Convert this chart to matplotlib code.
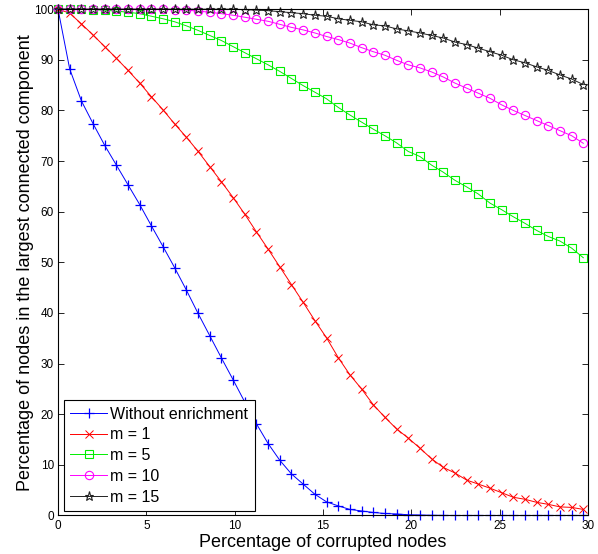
import numpy as np
import matplotlib.pyplot as plt

plt.rcParams['font.family'] = ['Liberation Sans', 'DejaVu Sans']

# x grid: percentage of corrupted nodes (46 samples)
x = np.arange(46) * 0.661

without = [100, 88.2, 81.9, 77.4, 73.1, 69.2, 65.3, 61.4, 57.2, 53.1, 48.9, 44.5,
           39.9, 35.5, 31.1, 26.8, 22.4, 18.1, 14.2, 10.9, 8.2, 6.2, 4.2, 2.7, 1.9,
           1.2, 0.9, 0.6, 0.4, 0.3, 0.15, 0.1, 0.05, 0.02, 0, 0, 0, 0, 0, 0, 0, 0,
           0, 0, 0, 0]
m1 = [100, 99.2, 97.1, 94.9, 92.6, 90.3, 87.9, 85.4, 82.7, 80.1, 77.3, 74.7, 71.9,
      68.9, 65.9, 62.8, 59.5, 56.0, 52.6, 49.1, 45.6, 42.1, 38.5, 35.1, 31.2, 27.8,
      25.0, 21.9, 19.4, 17.1, 15.3, 13.3, 11.2, 9.5, 8.4, 7.0, 6.2, 5.4, 4.5, 3.6,
      3.2, 2.6, 2.2, 1.7, 1.6, 1.2]
m5 = [100, 100, 100, 99.9, 99.8, 99.6, 99.4, 99.1, 98.6, 98.1, 97.5, 96.7, 95.8,
      94.8, 93.8, 92.6, 91.4, 90.2, 89.0, 87.7, 86.3, 84.9, 83.6, 82.3, 80.6, 79.1,
      77.7, 76.3, 75.0, 73.6, 71.9, 70.9, 69.2, 67.8, 66.2, 64.9, 63.5, 61.7, 60.4,
      59.0, 57.7, 56.3, 55.1, 54.2, 52.8, 50.9]
m10 = [100, 100, 100, 100, 100, 100, 100, 100, 100, 100, 99.9, 99.8, 99.6, 99.4,
       99.1, 98.8, 98.4, 98.0, 97.6, 97.0, 96.4, 95.9, 95.3, 94.6, 94.0, 93.3, 92.4,
       91.6, 90.9, 89.9, 89.0, 88.4, 87.6, 86.6, 85.4, 84.4, 83.4, 82.4, 81.1, 80.0,
       79.0, 78.0, 77.0, 76.0, 75.0, 73.5]
m15 = [100, 100, 100, 100, 100, 100, 100, 100, 100, 100, 100, 100, 100, 100, 100,
       100, 99.9, 99.8, 99.7, 99.5, 99.3, 99.1, 98.8, 98.6, 98.1, 97.8, 97.5, 96.9,
       96.7, 96.1, 95.7, 95.3, 94.8, 94.3, 93.5, 93.0, 92.3, 91.6, 90.9, 90.0, 89.4,
       88.6, 87.9, 87.0, 86.2, 85.1]

labels = ['Without enrichment', 'm = 1', 'm = 5', 'm = 10', 'm = 15']

fig = plt.figure(figsize=(5.98, 5.54), dpi=100)
ax = fig.add_axes([0.097, 0.0695, 0.886, 0.914])

ax.plot(x, without, color='#0000ff', marker='+', ms=7, mew=0.9, lw=0.7,
        clip_on=False, label=labels[0])
ax.plot(x, m1, color='#ff0000', marker='x', ms=5.5, mew=0.7, lw=0.7,
        clip_on=False, label=labels[1])
ax.plot(x, m5, color='#00ee00', marker='s', ms=5.5, mfc='none', mew=0.8, lw=0.7,
        clip_on=False, label=labels[2])
ax.plot(x, m10, color='#ff00ff', marker='o', ms=6, mfc='none', mew=0.8, lw=0.7,
        clip_on=False, label=labels[3])
ax.plot(x, m15, color='#222222', marker='*', ms=6.5, mfc='none', mew=0.8, lw=0.7,
        clip_on=False, label=labels[4])

ax.set_xlim(0, 30)
ax.set_ylim(0, 100)
ax.set_xticks(range(0, 31, 5))
ax.set_yticks(range(0, 101, 10))
ax.tick_params(direction='in', length=4, width=0.6, top=True, right=True,
               labelsize=8.5, pad=3)
for s in ax.spines.values():
    s.set_linewidth(0.8)

ax.set_xlabel('Percentage of corrupted nodes', fontsize=13, labelpad=2)
ax.set_ylabel('Percentage of nodes in the largest connected component',
              fontsize=13, labelpad=0)

leg = ax.legend(loc='lower left', bbox_to_anchor=(0.011, 0.009), borderaxespad=0,
                fontsize=11.5, fancybox=False, edgecolor='black', framealpha=1,
                handlelength=2.3, handletextpad=0.2, labelspacing=0.36,
                borderpad=0.4)
leg.get_frame().set_linewidth(0.8)

fig.savefig('out.png', dpi=100)
